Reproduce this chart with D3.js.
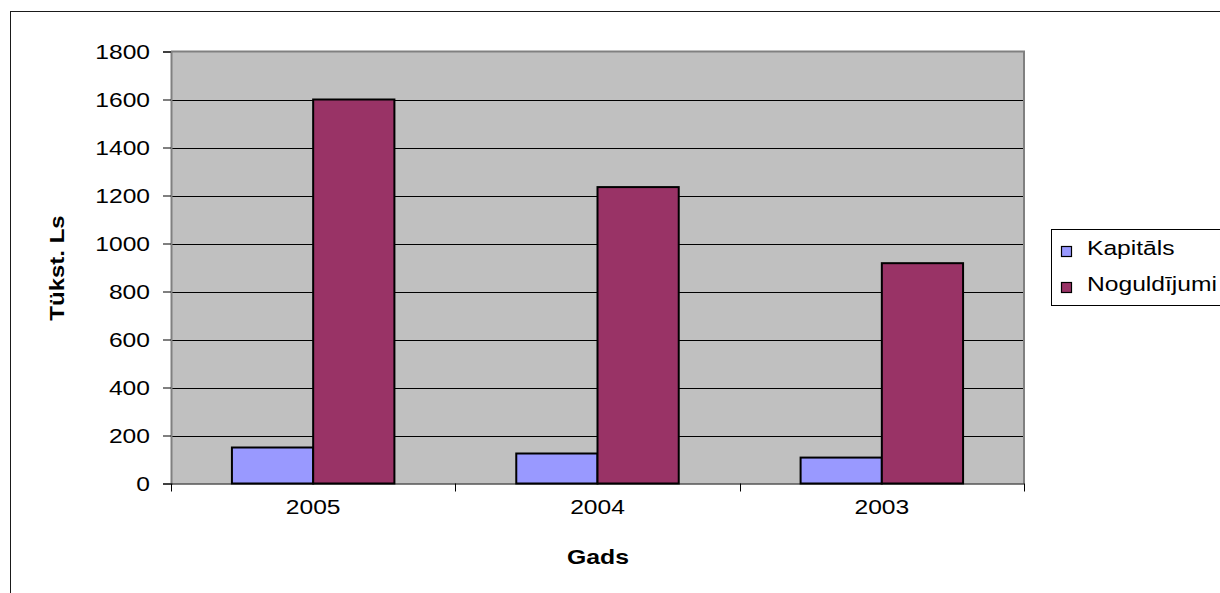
<!DOCTYPE html>
<html>
<head>
<meta charset="utf-8">
<script src="https://cdn.jsdelivr.net/npm/d3@7"></script>
<style>
  html, body { margin: 0; padding: 0; background: #ffffff; }
  svg { display: block; font-family: "Liberation Sans", Arial, sans-serif; }
</style>
</head>
<body>
<svg id="chart" width="1220" height="593"></svg>
<script>
// Years on the category axis
const years = ["2005", "2004", "2003"];
// Series values, thousands of lats
const kapitals = [150, 125, 108];
const noguldijumi = [1600, 1235, 918];
// Series names and colours
const seriesNames = ["Kapitāls", "Noguldījumi"];
const seriesColors = ["#9999FF", "#993366"];
// Value axis ticks
const yTicks = [0, 200, 400, 600, 800, 1000, 1200, 1400, 1600, 1800];

const rows = years.map((y, i) => ({ year: y, values: [kapitals[i], noguldijumi[i]] }));

const svg = d3.select("#chart");
const plot = { left: 171, right: 1024, top: 51.5, bottom: 483.5 };

// widen text along its reading direction (wide chart font)
function stretch(sel, k) {
  sel.each(function () {
    const len = this.getComputedTextLength();
    d3.select(this).attr("textLength", len * k).attr("lengthAdjust", "spacingAndGlyphs");
  });
}

// outer chart frame
svg.append("rect")
  .attr("x", 10.5).attr("y", 11.5)
  .attr("width", 1300).attr("height", 700)
  .attr("fill", "none").attr("stroke", "#1a1a1a").attr("stroke-width", 1);

const x0 = d3.scaleBand().domain(years).range([plot.left, plot.right]).paddingInner(0).paddingOuter(0);
const x1 = d3.scaleBand().domain([0, 1]).range([0, x0.bandwidth()]).paddingInner(0).paddingOuter(0.75);
const y = d3.scaleLinear().domain([0, 1800]).range([plot.bottom, plot.top]);

// plot background
svg.append("rect")
  .attr("x", plot.left).attr("y", plot.top)
  .attr("width", plot.right - plot.left).attr("height", plot.bottom - plot.top)
  .attr("fill", "#C0C0C0");

// gridlines
svg.append("g").selectAll("line")
  .data(yTicks.filter(t => t > 0 && t < 1800))
  .join("line")
  .attr("x1", plot.left).attr("x2", plot.right)
  .attr("y1", d => Math.round(y(d)) + 0.5).attr("y2", d => Math.round(y(d)) + 0.5)
  .attr("stroke", "#000").attr("stroke-width", 1);

// plot area border, top and right
svg.append("path")
  .attr("d", `M${plot.left},${plot.top}H${plot.right}V${plot.bottom}`)
  .attr("fill", "none").attr("stroke", "#808080").attr("stroke-width", 2);

// bars
const groups = svg.append("g").selectAll("g")
  .data(rows).join("g")
  .attr("transform", d => `translate(${x0(d.year)},0)`);
groups.selectAll("rect")
  .data(d => d.values.map((v, i) => ({ i, v })))
  .join("rect")
  .attr("x", d => x1(d.i))
  .attr("y", d => y(d.v))
  .attr("width", x1.bandwidth())
  .attr("height", d => y(0) - y(d.v))
  .attr("fill", d => seriesColors[d.i])
  .attr("stroke", "#000").attr("stroke-width", 2);

// value axis
const yAxis = svg.append("g")
  .attr("transform", `translate(${plot.left},0)`)
  .call(d3.axisLeft(y).tickValues(yTicks).tickSize(8).tickPadding(13).tickFormat(d3.format("d")));
yAxis.select(".domain").attr("stroke", "#808080").attr("stroke-width", 2);
yAxis.selectAll(".tick line").attr("stroke", "#000");
yAxis.selectAll("text")
  .attr("font-size", 20.5).attr("fill", "#000")
  .attr("font-family", "Liberation Sans, Arial, sans-serif")
  .call(stretch, 1.2);

// category axis
const xAxis = svg.append("g")
  .attr("transform", `translate(0,${plot.bottom})`)
  .call(d3.axisBottom(x0).tickSize(0).tickPadding(16));
xAxis.select(".domain").attr("stroke", "#000").attr("stroke-width", 1.2);
xAxis.selectAll("text")
  .attr("font-size", 20.5).attr("fill", "#000")
  .attr("font-family", "Liberation Sans, Arial, sans-serif")
  .call(stretch, 1.2);
// tick marks between categories
xAxis.selectAll("line.sep")
  .data(years.map(d => x0(d)).concat([plot.right]))
  .join("line").attr("class", "sep")
  .attr("x1", d => Math.round(d) + 0.5).attr("x2", d => Math.round(d) + 0.5)
  .attr("y1", 0).attr("y2", 8)
  .attr("stroke", "#000");

// axis titles
svg.append("text")
  .attr("x", (plot.left + plot.right) / 2 + 0.5).attr("y", 564)
  .attr("text-anchor", "middle")
  .attr("font-size", 21).attr("font-weight", "bold")
  .text("Gads")
  .call(stretch, 1.18);

svg.append("text")
  .attr("transform", `translate(64,268) rotate(-90)`)
  .attr("text-anchor", "middle")
  .attr("font-size", 20).attr("font-weight", "bold")
  .text("Tükst. Ls")
  .call(stretch, 1.2);

// legend
const legend = svg.append("g");
legend.append("rect")
  .attr("x", 1051.5).attr("y", 229.5)
  .attr("width", 200).attr("height", 76)
  .attr("fill", "#fff").attr("stroke", "#000").attr("stroke-width", 1);
const items = legend.selectAll("g.item")
  .data(seriesNames).join("g").attr("class", "item")
  .attr("transform", (d, i) => `translate(0,${i * 36})`);
items.append("rect")
  .attr("x", 1061.5).attr("y", 246.5)
  .attr("width", 10).attr("height", 10)
  .attr("fill", (d, i) => seriesColors[i])
  .attr("stroke", "#000").attr("stroke-width", 1.2);
items.append("text")
  .attr("x", 1087).attr("y", 255)
  .attr("font-size", 20.5).attr("fill", "#000")
  .text(d => d)
  .call(stretch, 1.2);
</script>
</body>
</html>
